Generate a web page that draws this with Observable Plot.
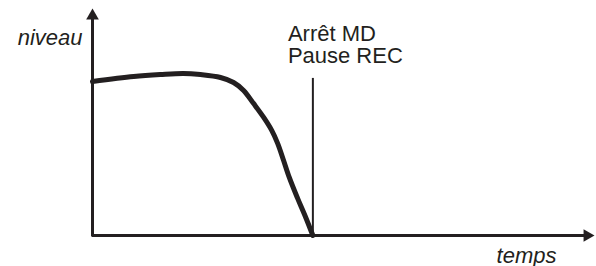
<!DOCTYPE html>
<html><head><meta charset="utf-8">
<script src="https://cdn.jsdelivr.net/npm/d3@7"></script>
<script src="https://cdn.jsdelivr.net/npm/@observablehq/plot@0.6"></script>
<style>body{margin:0;background:#fff}</style>
</head><body><div id="chart"></div>
<script>
// curve of "niveau" over "temps" (arbitrary units)
const temps  = [0, 8.2, 13.5, 18.1, 21.5, 25.5, 28.1, 30.1, 32.1, 34.1, 35.7, 36.9, 38.0, 39.2, 40.8, 42.4, 43.9];
const niveau = [67.8, 70.0, 70.9, 71.4, 70.9, 69.6, 67.4, 63.9, 58.1, 52.0, 46.3, 40.5, 33.5, 25.6, 16.7, 8.4, 0];
// event marker
const eventTime  = [43.9];
const eventTop   = [69.2];
const eventLabel = ["Arrêt MD\nPause REC"];
// axis titles
const yTitle = ["niveau"];
const xTitle = ["temps"];

const ink = "#231f20";
const data = temps.map((t, i) => ({t, v: niveau[i]}));
const ev = eventTime.map((t, i) => ({t, top: eventTop[i], label: eventLabel[i]}));

const chart = Plot.plot({
  width: 596, height: 266,
  marginLeft: 92, marginRight: 2, marginTop: 8, marginBottom: 31,
  x: {domain: [0, 100], axis: null},
  y: {domain: [0, 100], axis: null},
  style: {fontFamily: "'Liberation Sans', Arial, Helvetica, sans-serif", background: "#fff"},
  marks: [
    Plot.ruleX([0], {y1: 0, y2: 97, stroke: ink, strokeWidth: 3, strokeLinecap: "square"}),
    Plot.ruleY([0], {x1: 0, x2: 98.5, stroke: ink, strokeWidth: 3}),
    Plot.dot([0], {x: 0, y: 100, symbol: "triangle", r: 4.7, fill: ink, stroke: null, dy: 7.3}),
    Plot.dot([0], {x: 100, y: 0, symbol: "triangle", r: 4.7, fill: ink, stroke: null, rotate: 90, dx: -7.3}),
    Plot.ruleX(ev, {x: "t", y1: 0, y2: "top", stroke: ink, strokeWidth: 2}),
    Plot.line(data, {x: "t", y: "v", curve: "catmull-rom", stroke: ink, strokeWidth: 5}),
    Plot.text(ev, {x: "t", y: "top", text: "label", textAnchor: "start", lineAnchor: "bottom",
      lineHeight: 1, dx: -25, dy: -15, fontSize: 22, fill: ink}),
    Plot.text(yTitle, {frameAnchor: "top-left", text: d => d, textAnchor: "end", lineAnchor: "bottom",
      dx: -10, dy: 36, fontSize: 22, fontStyle: "italic", fill: ink}),
    Plot.text(xTitle, {frameAnchor: "bottom-right", text: d => d, textAnchor: "end", lineAnchor: "bottom",
      dx: -38, dy: 27, fontSize: 22, fontStyle: "italic", fill: ink})
  ]
});
document.getElementById("chart").appendChild(chart);
</script>
</body></html>
